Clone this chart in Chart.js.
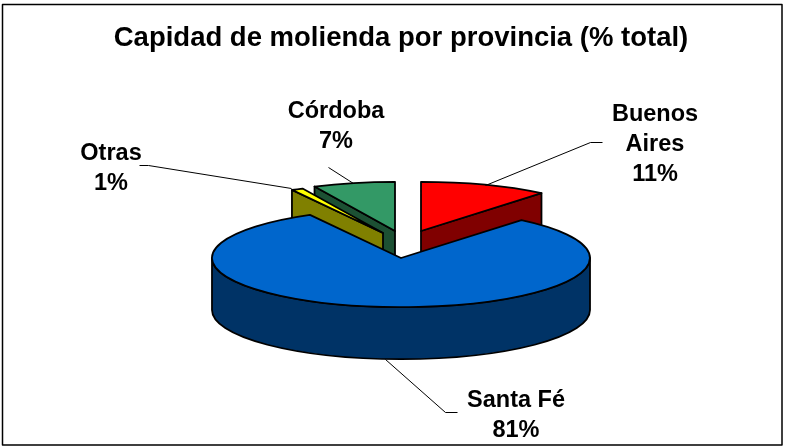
<!DOCTYPE html>
<html>
<head>
<meta charset="utf-8">
<style>html,body{margin:0;padding:0;background:#fff}canvas{display:block}</style>
<script src="https://cdn.jsdelivr.net/npm/chart.js@4"></script>
</head>
<body>
<canvas id="c" width="788" height="448"></canvas>
<script>
const titleText = "Capidad de molienda por provincia (% total)";
const categories = ["Buenos Aires", "Santa Fé", "Otras", "Córdoba"];
const values = [11, 81, 1, 7];
const topColors = ["#FF0000", "#0066CC", "#FFFF00", "#339966"];
const wallColors = ["#800000", "#003366", "#808000", "#1C5033"];
const explode = [[20, -28], [0, -1], [-18, -26], [-6, -28]];
const labelLines = [["Buenos", "Aires"], ["Santa Fé"], ["Otras"], ["Córdoba"]];
const labelAnchors = [[655, 113], [516, 399], [111, 152], [336, 110]];
const leaders = [
  [[485, 185], [590, 142], [602, 142]],
  [[385, 359], [445, 412], [457, 412]],
  [[291, 188], [148, 165], [139, 165]],
  [[353, 183], [328, 167]]
];
const drawOrder = [3, 0, 2, 1];
const tilt = 0.26, depth = 52, lineW = 1.8;

function outlineTop(ctx, x, y, r, a0, a1) {
  ctx.beginPath();
  ctx.moveTo(x, y);
  ctx.ellipse(x, y, r, r * tilt, 0, a0, a1);
  ctx.closePath();
}
function wallRadial(ctx, x, y, r, a, color) {
  const px = x + r * Math.cos(a), py = y + r * tilt * Math.sin(a);
  ctx.beginPath();
  ctx.moveTo(x, y);
  ctx.lineTo(px, py);
  ctx.lineTo(px, py + depth);
  ctx.lineTo(x, y + depth);
  ctx.closePath();
  ctx.fillStyle = color;
  ctx.fill();
  ctx.stroke();
}
function wallOuter(ctx, x, y, r, a0, a1, color) {
  // visible part of the rim: angles 0..PI (front half)
  const from = Math.max(a0, 0), to = Math.min(a1, Math.PI);
  if (to <= from) return;
  ctx.beginPath();
  ctx.ellipse(x, y, r, r * tilt, 0, from, to);
  ctx.ellipse(x, y + depth, r, r * tilt, 0, to, from, true);
  ctx.closePath();
  ctx.fillStyle = color;
  ctx.fill();
  ctx.stroke();
}

const pie3d = {
  id: "pie3d",
  beforeDatasetDraw(chart, args) {
    const ctx = chart.ctx, els = chart.getDatasetMeta(args.index).data;
    ctx.lineJoin = "round";
    drawOrder.forEach(i => {
      const el = els[i];
      const x = el.x + explode[i][0], y = el.y + explode[i][1], r = el.outerRadius;
      const a0 = el.startAngle, a1 = el.endAngle;
      ctx.save();
      ctx.strokeStyle = "#000";
      ctx.lineWidth = lineW;
      if (i !== 1) wallRadial(ctx, x, y, r, a0 > 0 ? a0 : a1, wallColors[i]);
      wallOuter(ctx, x, y, r, a0, a1, wallColors[i]);
      ctx.restore();
      ctx.save();
      ctx.translate(x, y);
      ctx.scale(1, tilt);
      ctx.translate(-el.x, -el.y);
      el.draw(ctx);
      ctx.restore();
      ctx.save();
      ctx.strokeStyle = "#000";
      ctx.lineWidth = lineW;
      outlineTop(ctx, x, y, r, a0, a1);
      ctx.stroke();
      ctx.restore();
    });
    return false;
  },
  afterDraw(chart) {
    const ctx = chart.ctx;
    ctx.save();
    ctx.strokeStyle = "#000";
    ctx.lineWidth = 1;
    leaders.forEach(l => {
      ctx.beginPath();
      l.forEach((p, k) => k ? ctx.lineTo(p[0] + .5, p[1] + .5) : ctx.moveTo(p[0] + .5, p[1] + .5));
      ctx.stroke();
    });
    ctx.fillStyle = "#000";
    ctx.font = "bold 23.5px 'Liberation Sans', Arial, sans-serif";
    ctx.textAlign = "center";
    ctx.textBaseline = "alphabetic";
    categories.forEach((c, i) => {
      const lines = labelLines[i].concat([values[i] + "%"]);
      lines.forEach((t, k) => ctx.fillText(t, labelAnchors[i][0], labelAnchors[i][1] + 8 + k * 30));
    });
    ctx.lineWidth = 1.5;
    ctx.strokeRect(2.5, 4.5, 779.5, 440.5);
    ctx.restore();
  }
};

new Chart(document.getElementById("c"), {
  type: "pie",
  data: {
    labels: categories,
    datasets: [{ data: values, backgroundColor: topColors, borderWidth: 0 }]
  },
  options: {
    responsive: false,
    animation: false,
    layout: { padding: { left: 14, right: 0, top: 0, bottom: 0 } },
    plugins: {
      legend: { display: false },
      tooltip: { enabled: false },
      title: {
        display: true,
        text: titleText,
        color: "#000",
        font: { family: "'Liberation Sans', Arial, sans-serif", size: 27.5, weight: "bold" },
        padding: { top: 22, bottom: 15 }
      }
    }
  },
  plugins: [pie3d]
});
</script>
</body>
</html>
